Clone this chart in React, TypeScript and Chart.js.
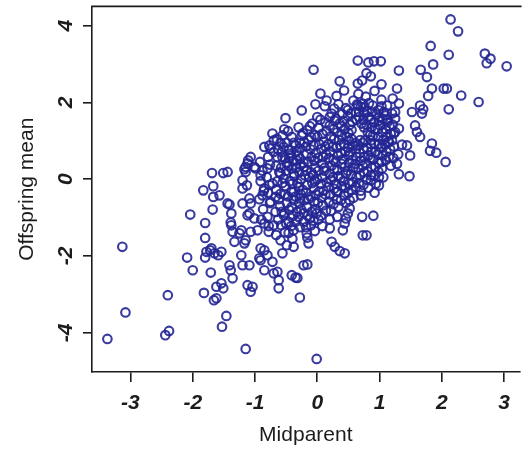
import { useEffect, useRef } from "react";
import { Chart, registerables } from "chart.js";

Chart.register(...registerables);

// Axis ticks and titles
const xTicks = [-3, -2, -1, 0, 1, 2, 3];
const yTicks = [-4, -2, 0, 2, 4];
const xTitle = "Midparent";
const yTitle = "Offspring mean";

// [midparent, offspring mean] per family, families with below-average offspring
const familiesLow: [number, number][] = [
  [-3.37, -4.16], [-3.13, -1.76], [-3.08, -3.47], [-2.44, -4.06], [-2.38, -3.95],
  [-2.40, -3.02], [-2.09, -2.04], [-2.00, -2.37], [-2.04, -0.92], [-1.82, -2.96],
  [-1.66, -3.15], [-1.62, -3.10], [-1.71, -2.43], [-1.46, -3.56], [-1.53, -3.84],
  [-1.15, -4.42], [-0.01, -4.68], [-1.83, -0.29], [-1.67, -0.18], [-1.67, -0.46],
  [-1.57, -0.42], [-1.80, -1.14], [-1.80, -1.53], [-1.68, -0.79], [-1.44, -0.63],
  [-1.38, -0.89], [-1.39, -1.13], [-1.36, -1.37], [-1.33, -1.63], [-1.78, -1.89],
  [-1.72, -1.85], [-1.65, -1.93], [-1.59, -1.98], [-1.80, -2.04], [-1.70, -1.80],
  [-1.41, -2.24], [-1.39, -2.37], [-1.36, -2.58], [-1.20, -2.24], [-1.54, -2.71],
  [-1.62, -2.80], [-1.51, -2.84], [-1.12, -2.76], [-1.04, -2.80], [-1.07, -2.93],
  [-0.70, -2.45], [-0.62, -2.63], [-0.62, -2.84], [-0.35, -2.56], [-0.28, -3.08],
  [-0.85, -2.37], [-0.91, -2.11], [-0.85, -1.85], [-0.22, -2.24], [-0.16, -2.22],
  [-0.32, -2.57], [-1.20, -0.24], [-1.13, -0.16], [-1.07, -0.63], [-1.20, -0.63],
  [-1.09, -0.89], [-0.88, -0.42], [-1.25, -1.41], [-1.17, -1.67], [-1.41, -0.66],
  [-1.38, -1.20], [-1.54, -1.89], [-1.09, -2.24], [-1.22, -1.98], [-1.15, -1.59],
  [-1.07, -1.37], [-1.22, -1.33], [-1.12, -0.94], [-1.01, -1.02], [-1.09, -0.50],
  [-1.20, -0.03], [-0.72, -0.11], [-0.85, -0.24], [-0.96, -1.33], [-0.85, -1.15],
  [-0.78, -1.37], [-0.70, -1.20], [-0.67, -0.46], [-0.75, -0.59], [-0.38, -0.33],
  [-0.28, -0.50], [-0.67, -0.85], [-0.54, -0.94], [-0.46, -1.11], [-0.38, -1.33],
  [-0.22, -1.11], [-0.12, -1.02], [-0.01, -0.89], [-0.17, -1.41], [-0.14, -1.67],
  [-0.59, -1.59], [-0.49, -1.72], [-0.38, -1.76], [-0.56, -1.93], [-0.91, -1.80],
  [-0.80, -1.98], [-0.93, -2.06], [-0.72, -2.15], [-0.64, -2.41], [-0.41, -2.50],
  [0.99, -0.16], [0.86, -0.03], [0.70, -0.42], [0.72, -0.98], [0.90, -0.95],
  [0.73, -1.46], [0.79, -1.46], [0.52, -0.55], [0.52, -0.76], [0.49, -0.89],
  [0.46, -1.02], [0.44, -1.15], [0.41, -1.33], [0.20, -1.28], [0.23, -1.63],
  [0.28, -1.76], [0.36, -1.87], [0.44, -1.93], [0.31, -0.33],
];

// Families with above-average offspring
const familiesHigh: [number, number][] = [
  [2.14, 4.16], [2.26, 3.85], [1.82, 3.47], [2.11, 3.24], [2.69, 3.27],
  [2.78, 3.14], [2.72, 3.02], [3.04, 2.94], [-0.06, 2.85], [0.65, 3.09],
  [0.82, 3.04], [0.91, 3.07], [1.02, 3.07], [0.79, 2.76], [0.86, 2.68],
  [0.72, 2.57], [0.65, 2.49], [1.03, 2.47], [1.31, 2.83], [1.66, 2.85],
  [1.76, 2.66], [1.86, 2.99], [0.36, 2.55], [0.43, 2.31], [0.31, 2.17],
  [0.05, 2.23], [0.15, 2.05], [0.12, 1.90], [0.27, 1.84], [1.28, 2.36],
  [1.21, 2.10], [1.03, 2.07], [1.84, 2.36], [1.78, 2.17], [1.65, 1.92],
  [1.70, 1.82], [1.68, 1.71], [1.52, 1.75], [2.03, 2.36], [2.08, 2.36],
  [2.31, 2.18], [2.59, 2.01], [2.11, 1.82], [-0.25, 1.79], [0.00, 1.62],
  [0.02, 1.34], [0.49, 1.64], [0.65, 1.92], [0.75, 1.88], [0.89, 1.92],
  [1.07, 1.75], [1.20, 1.71], [1.25, 1.58], [0.99, 1.53], [0.20, 1.40],
  [0.36, 1.45], [1.57, 1.40], [1.60, 1.23], [1.65, 1.10], [1.36, 0.90],
  [1.44, 0.88], [1.84, 0.93], [1.81, 0.74], [1.91, 0.69], [2.06, 0.45],
  [1.49, 0.62], [1.25, 1.23], [1.20, 1.01], [-0.51, 1.59], [-0.72, 1.19],
  [-0.56, 1.14], [-0.41, 1.10], [-0.25, 1.14], [-0.85, 0.84], [-0.70, 0.71],
  [-0.54, 0.84], [-0.43, 0.67], [-0.28, 0.80], [-1.07, 0.58], [-1.12, 0.41],
  [-1.01, 0.32], [-0.64, 0.58], [-0.49, 0.41], [-0.33, 0.49], [-0.59, 0.15],
  [-0.38, 0.15], [-0.22, 0.32], [-0.70, 1.01], [-0.75, 0.80], [-0.46, 0.77],
  [-0.56, 0.58], [-1.11, 0.49], [-1.15, 0.32], [-0.28, 0.54], [-0.17, 0.67],
  [-1.44, 0.19], [0.73, 1.97], [0.83, 1.98], [1.12, 1.92], [1.25, 1.75],
  [1.31, 1.97], [1.10, 1.66], [0.23, 1.71], [0.67, 1.75], [1.31, 1.32],
  [1.23, 1.19], [1.15, 0.97], [0.86, 1.01], [1.31, 0.13], [1.48, 0.08],
  [0.99, 0.06], [1.04, 0.28], [-1.69, 0.16], [-1.51, 0.16], [-1.15, 0.19],
  [-0.91, 0.10], [-1.17, 0.26], [-0.99, 0.28], [-0.80, 0.28],
];

// Families close to the population mean
const familiesCore: [number, number][] = [
  [-0.90, -1.05], [-0.87, -0.78], [-0.93, -0.52], [-0.86, -0.30], [-0.91, -0.05], [-0.88, 0.22], [-0.92, 0.45],
  [-0.78, -1.22], [-0.80, -0.98], [-0.76, -0.62], [-0.79, -0.35], [-0.77, -0.15], [-0.81, 0.05], [-0.76, 0.38],
  [-0.79, 0.58], [-0.77, 0.88],
  [-0.66, -1.45], [-0.63, -1.05], [-0.60, -0.70], [-0.62, -0.52], [-0.66, -0.28], [-0.64, -0.05], [-0.61, 0.18],
  [-0.66, 0.35], [-0.63, 0.78], [-0.65, 1.05],
  [-0.52, -1.38], [-0.50, -1.15], [-0.53, -0.88], [-0.49, -0.62], [-0.52, -0.40], [-0.51, -0.18], [-0.54, 0.02],
  [-0.50, 0.22], [-0.52, 0.55], [-0.49, 0.95], [-0.53, 1.30],
  [-0.40, -1.55], [-0.42, -1.22], [-0.39, -0.95], [-0.41, -0.72], [-0.38, -0.55], [-0.42, -0.32], [-0.40, -0.12],
  [-0.37, 0.08], [-0.41, 0.28], [-0.39, 0.48], [-0.42, 0.62], [-0.38, 0.95],
  [-0.28, -1.25], [-0.30, -0.98], [-0.26, -0.78], [-0.29, -0.62], [-0.27, -0.38], [-0.30, -0.20], [-0.26, 0.00],
  [-0.29, 0.18], [-0.27, 0.38], [-0.31, 0.62], [-0.28, 0.95], [-0.30, 1.35],
  [-0.16, -1.52], [-0.18, -1.25], [-0.15, -0.95], [-0.17, -0.72], [-0.14, -0.52], [-0.18, -0.35], [-0.16, -0.15],
  [-0.13, 0.05], [-0.17, 0.22], [-0.15, 0.45], [-0.18, 0.85], [-0.14, 1.02], [-0.16, 1.28],
  [-0.04, -1.35], [-0.06, -1.08], [-0.03, -0.78], [-0.05, -0.58], [-0.02, -0.40], [-0.06, -0.22], [-0.04, -0.05],
  [-0.07, 0.12], [-0.03, 0.30], [-0.05, 0.48], [-0.02, 0.68], [-0.06, 0.88], [-0.04, 1.15], [-0.08, 1.45],
  [-0.03, 1.95],
  [0.08, -1.22], [0.06, -0.95], [0.09, -0.68], [0.07, -0.48], [0.10, -0.30], [0.06, -0.12], [0.08, 0.05],
  [0.11, 0.22], [0.07, 0.40], [0.09, 0.58], [0.06, 0.78], [0.10, 0.98], [0.08, 1.18], [0.05, 1.55],
  [0.20, -1.05], [0.22, -0.82], [0.19, -0.58], [0.21, -0.40], [0.18, -0.20], [0.22, -0.02], [0.20, 0.15],
  [0.23, 0.35], [0.19, 0.55], [0.21, 0.72], [0.18, 0.92], [0.22, 1.12], [0.20, 1.62],
  [0.32, -0.98], [0.34, -0.72], [0.31, -0.52], [0.33, -0.32], [0.30, -0.12], [0.34, 0.08], [0.32, 0.25],
  [0.29, 0.45], [0.33, 0.62], [0.31, 0.82], [0.35, 1.02], [0.32, 1.22], [0.30, 1.58], [0.34, 1.95],
  [0.46, -0.62], [0.43, -0.42], [0.45, -0.22], [0.42, -0.05], [0.46, 0.15], [0.44, 0.32], [0.41, 0.52],
  [0.45, 0.72], [0.43, 0.92], [0.47, 1.10], [0.44, 1.30], [0.42, 1.52], [0.46, 1.85],
  [0.58, -0.48], [0.55, -0.28], [0.57, -0.08], [0.54, 0.12], [0.58, 0.30], [0.56, 0.50], [0.53, 0.70],
  [0.57, 0.88], [0.55, 1.05], [0.55, 1.28], [0.56, 1.50], [0.54, 1.72], [0.58, 2.05],
  [0.70, -0.30], [0.67, -0.10], [0.69, 0.10], [0.66, 0.28], [0.70, 0.48], [0.68, 0.68], [0.65, 0.88],
  [0.69, 1.02], [0.71, 1.45], [0.67, 1.62], [0.70, 1.88], [0.66, 2.22],
  [0.82, -0.22], [0.79, 0.00], [0.81, 0.20], [0.78, 0.42], [0.82, 0.62], [0.80, 0.82], [0.77, 1.02],
  [0.81, 1.22], [0.79, 1.42], [0.83, 1.62], [0.80, 1.78], [0.78, 2.15],
  [0.92, -0.35], [0.94, -0.12], [0.91, 0.10], [0.93, 0.32], [0.90, 0.52], [0.94, 0.72], [0.92, 0.92],
  [0.89, 1.12], [0.93, 1.30], [0.91, 1.48], [0.95, 1.68], [0.92, 2.30],
  [1.06, 0.05], [1.03, 0.45], [1.05, 0.62], [1.02, 0.82], [1.06, 1.02], [1.04, 1.22], [1.01, 1.40],
  [1.05, 1.58], [1.03, 1.90],
  [1.18, 0.35], [1.15, 0.58], [1.17, 0.78], [1.14, 0.98], [1.18, 1.18], [1.16, 1.38], [1.13, 1.55],
  [1.28, 0.40], [1.30, 0.65],
];

// More families in the crowded centre of the distribution
const familiesCentre: [number, number][] = [
  [-0.58, -1.20], [-0.57, -0.85], [-0.59, -0.38], [-0.56, -0.10], [-0.58, 0.30], [-0.57, 0.70], [-0.59, 0.95],
  [-0.46, -1.40], [-0.45, -0.80], [-0.47, -0.45], [-0.44, -0.05], [-0.46, 0.35], [-0.45, 0.55], [-0.47, 1.25],
  [-0.34, -1.10], [-0.33, -0.85], [-0.35, -0.45], [-0.32, -0.10], [-0.34, 0.30], [-0.33, 0.72], [-0.35, 0.88],
  [-0.22, -0.88], [-0.21, -0.55], [-0.23, -0.28], [-0.20, 0.10], [-0.22, 0.42], [-0.21, 0.95], [-0.23, 1.20],
  [-0.10, -1.20], [-0.09, -0.85], [-0.11, -0.45], [-0.08, -0.10], [-0.10, 0.18], [-0.09, 0.58], [-0.11, 0.78],
  [-0.10, 1.10], [-0.12, 1.38],
  [0.02, -1.05], [0.01, -0.62], [0.03, -0.32], [0.00, 0.00], [0.02, 0.22], [0.01, 0.55], [0.03, 0.92], [0.00, 1.10],
  [0.14, -0.82], [0.13, -0.40], [0.15, -0.08], [0.12, 0.30], [0.14, 0.65], [0.13, 0.85], [0.15, 1.25], [0.13, 1.48],
  [0.26, -0.65], [0.27, -0.25], [0.25, 0.05], [0.27, 0.25], [0.26, 0.50], [0.25, 0.85], [0.27, 1.05], [0.26, 1.30],
  [0.28, 1.52],
  [0.38, -0.55], [0.39, -0.18], [0.37, 0.02], [0.39, 0.40], [0.38, 0.68], [0.37, 0.88], [0.39, 1.15], [0.38, 1.38],
  [0.40, 1.70],
  [0.50, -0.35], [0.51, -0.12], [0.49, 0.22], [0.51, 0.42], [0.50, 0.62], [0.49, 0.82], [0.51, 1.00], [0.50, 1.20],
  [0.52, 1.42], [0.49, 1.80],
  [0.62, -0.20], [0.63, 0.05], [0.61, 0.40], [0.63, 0.58], [0.62, 0.78], [0.61, 0.95], [0.63, 1.55], [0.62, 1.75],
  [0.64, 1.95],
  [0.74, -0.15], [0.75, 0.18], [0.73, 0.35], [0.75, 0.58], [0.74, 0.78], [0.73, 0.95], [0.75, 1.35], [0.74, 1.55],
  [0.76, 1.72],
  [0.86, 0.10], [0.87, 0.30], [0.85, 0.55], [0.87, 0.72], [0.86, 0.92], [0.85, 1.15], [0.87, 1.35], [0.86, 1.55],
  [0.88, 1.75],
  [0.98, 0.20], [0.99, 0.42], [0.97, 0.65], [0.99, 0.92], [0.98, 1.10], [0.97, 1.30], [0.99, 1.62], [0.98, 1.80],
  [1.10, 0.50], [1.11, 0.72], [1.09, 0.90], [1.11, 1.10], [1.10, 1.30], [1.12, 1.48],
  [1.22, 0.55], [1.23, 0.85], [1.21, 1.42],
];

const INK = "#1c1c1c";
const FONT_FAMILY = "'Liberation Sans', Arial, Helvetica, sans-serif";
const tickFont = { family: FONT_FAMILY, size: 21, style: "italic" as const, weight: "bold" as const };
const titleFont = { family: FONT_FAMILY, size: 21, weight: "normal" as const };

// Closes the frame along the top and writes the y tick labels parallel to the axis
const framePlugin = {
  id: "frameAndYLabels",
  afterDraw(chart: Chart) {
    const { ctx, chartArea, scales } = chart;
    ctx.save();
    ctx.strokeStyle = INK;
    ctx.lineWidth = 1.6;
    ctx.beginPath();
    ctx.moveTo(chartArea.left - 0.8, chartArea.top);
    ctx.lineTo(chartArea.right + 2, chartArea.top);
    ctx.stroke();

    const y = scales.y;
    ctx.fillStyle = INK;
    ctx.font = `italic bold ${tickFont.size}px ${FONT_FAMILY}`;
    ctx.textAlign = "center";
    ctx.textBaseline = "middle";
    for (const t of y.ticks) {
      const py = y.getPixelForValue(t.value);
      ctx.save();
      ctx.translate(66, py);
      ctx.rotate(-Math.PI / 2);
      ctx.fillText(String(t.value), 0, 0);
      ctx.restore();
    }
    ctx.restore();
  },
};

export default function App() {
  const canvasRef = useRef<HTMLCanvasElement | null>(null);

  useEffect(() => {
    const canvas = canvasRef.current;
    if (!canvas) return;
    const points = [...familiesLow, ...familiesHigh, ...familiesCore, ...familiesCentre].map(([x, y]) => ({ x, y }));

    const chart = new Chart(canvas, {
      type: "scatter",
      data: {
        datasets: [
          {
            data: points,
            pointStyle: "circle",
            pointRadius: 4.3,
            pointHoverRadius: 4.3,
            pointBorderWidth: 2.1,
            borderColor: "rgba(36, 38, 148, 0.9)",
            backgroundColor: "rgba(0, 0, 0, 0)",
          },
        ],
      },
      options: {
        responsive: false,
        animation: false,
        events: [],
        layout: { padding: { top: 6, left: 0, right: 0, bottom: 0 } },
        plugins: { legend: { display: false }, tooltip: { enabled: false } },
        scales: {
          x: {
            type: "linear",
            min: -3.617,
            max: 3.248,
            afterBuildTicks: (s: any) => {
              s.ticks = xTicks.map((v) => ({ value: v }));
            },
            afterFit: (s: any) => {
              s.height = 77;
            },
            ticks: {
              font: tickFont,
              color: INK,
              padding: 9,
              maxRotation: 0,
              autoSkip: false,
              includeBounds: false,
            },
            grid: { drawOnChartArea: false, drawTicks: true, tickLength: 10, color: INK, lineWidth: 1.6 },
            border: { display: true, color: INK, width: 1.6 },
            title: { display: true, text: xTitle, font: titleFont, color: INK, padding: { top: 0, bottom: 1 } },
          },
          y: {
            type: "linear",
            min: -5.02,
            max: 4.5,
            afterBuildTicks: (s: any) => {
              s.ticks = yTicks.map((v) => ({ value: v }));
            },
            afterFit: (s: any) => {
              s.width = 92;
            },
            ticks: { display: false, includeBounds: false },
            grid: { drawOnChartArea: false, drawTicks: true, tickLength: 9, color: INK, lineWidth: 1.6 },
            border: { display: true, color: INK, width: 1.6 },
            title: { display: true, text: yTitle, font: titleFont, color: INK, padding: { top: 15, bottom: 0 } },
          },
        },
      },
      plugins: [framePlugin],
    });

    return () => chart.destroy();
  }, []);

  return (
    <div style={{ position: "fixed", left: 0, top: 0, width: 526, height: 449, background: "#fff" }}>
      <canvas ref={canvasRef} width={526} height={449} style={{ display: "block" }} />
    </div>
  );
}
